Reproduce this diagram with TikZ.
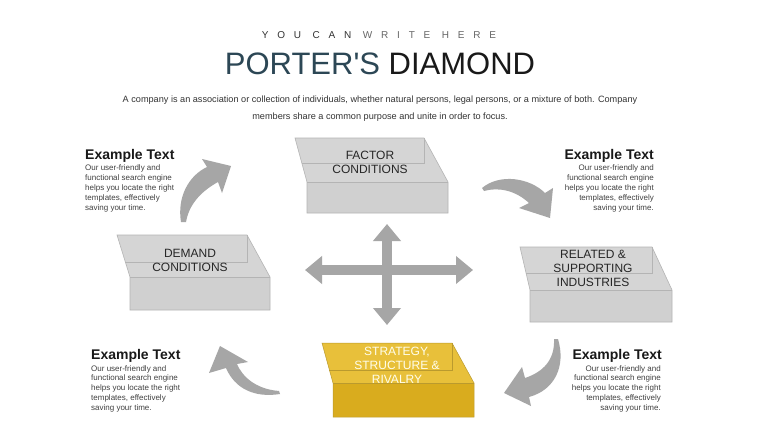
\documentclass[tikz,border=0pt]{standalone}
\usepackage{fontspec}
\setmainfont{Liberation Sans}
\newfontfamily\plainsans{Liberation Sans}
\usetikzlibrary{arrows.meta}
\definecolor{graytop}{HTML}{D5D5D5}
\definecolor{grayfront}{HTML}{D0D0D0}
\definecolor{goldtop}{HTML}{E8C03A}
\definecolor{goldfront}{HTML}{D9AC1E}
\definecolor{edgegray}{HTML}{B4B4B4}
\definecolor{arrowgray}{HTML}{A6A6A6}
\definecolor{titleteal}{HTML}{2C4755}
\definecolor{bodygray}{HTML}{404040}
\tikzset{
  boxedge/.style={draw=edgegray, line width=0.6pt},
  goldedge/.style={draw=goldtop!80!black, line width=0.5pt},
  boxlabel/.style={font=\fontsize{12}{14}\selectfont, align=center, text=black!85, inner sep=0pt},
  goldlabel/.style={boxlabel, text=white!92!yellow},
  extitle/.style={font=\fontsize{14}{16}\selectfont\bfseries, text=black!90, inner sep=0pt},
  exbody/.style={font=\fontsize{8}{9.9}\selectfont, text=bodygray, inner sep=0pt},
  subtext/.style={font=\fontsize{9.15}{12}\selectfont, text=black!80, inner sep=0pt},
  bigarrow/.style={draw=arrowgray, line width=10pt, {Triangle[width=27pt,length=17pt]}-{Triangle[width=27pt,length=17pt]}},
  curvedarrow/.style={fill=arrowgray, draw=none}
}
% #1 prefix (gray/gold), #2 yt, #3 xl, #4 xr, #5 yb, #6 yf, #7 fl, #8 fr, #9 ybot
\newcommand\prismbox[9]{%
  \fill[#1top] (#3,#2) -- (#4,#2) -- (#8,#6) -- (#8,#9) -- (#7,#9) -- (#7,#6) -- cycle;
  \fill[#1front] (#7,#6) rectangle (#8,#9);
  \draw[#1edgestyle] (#3,#2) -- (#4,#2) -- (#8,#6) -- (#8,#9) -- (#7,#9) -- (#7,#6) -- cycle;
  \draw[#1edgestyle] (#7,#6) -- (#8,#6);
  \draw[#1edgestyle] ({#3+(#7-#3)*(#5-#2)/(#6-#2)},#5) -- (#4,#5) -- (#4,#2);
}
\tikzset{grayedgestyle/.style={boxedge}, goldedgestyle/.style={goldedge}}
\begin{document}
\begin{tikzpicture}[x=1pt,y=-1pt]
\useasboundingbox (0,0) rectangle (760,428);
\fill[white] (0,0) rectangle (760,428);

% header
\node[font=\fontsize{10}{12}\selectfont\addfontfeatures{LetterSpace=88}, inner sep=0pt] (tag) at (379,35)
  {\textcolor{black!80}{YOU CAN} \textcolor{black!60}{WRITE HERE}};
\node[font=\plainsans\fontsize{31}{34}\selectfont, inner sep=0pt] (title) at (380,64)
  {\textcolor{titleteal}{PORTER'S} \textcolor{black!90}{DIAMOND}};
\node[subtext] (sub1) at (380,100) {A company is an association or collection of individuals, whether natural persons, legal persons, or a mixture of both. Company};
\node[subtext] (sub2) at (380,117) {members share a common purpose and unite in order to focus.};

% boxes
\prismbox{gray}{138}{295}{424}{163}{182}{307}{448}{213}
\prismbox{gray}{235}{117}{247}{262}{277}{130}{270}{310}
\prismbox{gray}{247}{520}{652}{273}{290}{530}{672}{322}
\prismbox{gold}{343}{322}{452}{370}{383}{333}{474}{417}

\node[boxlabel] (factor) at (370,162) {FACTOR\\CONDITIONS};
\node[boxlabel] (demand) at (190,260) {DEMAND\\CONDITIONS};
\node[boxlabel] (related) at (593,268) {RELATED \&\\SUPPORTING\\INDUSTRIES};
\node[goldlabel] (strategy) at (397,365) {STRATEGY,\\STRUCTURE \&\\RIVALRY};

% cross arrows
\coordinate (hl) at (305,270);
\coordinate (hr) at (473,270);
\coordinate (vt) at (387,224);
\coordinate (vb) at (387,325);
\draw[bigarrow] (hl) -- (hr);
\draw[bigarrow] (vt) -- (vb);

% curved arrows
\fill[curvedarrow] (181,222) .. controls (177,198) and (188,176) .. (207,167) -- (202,159) -- (231,166) -- (222,193) -- (218,182) .. controls (200,192) and (189,205) .. (186,222) -- cycle;
\fill[curvedarrow] (482,188) .. controls (500,173) and (530,178) .. (545,193) -- (553,188) -- (550,218) -- (519,208) -- (529,203) .. controls (515,190) and (498,187) .. (484,191) -- cycle;
\fill[curvedarrow] (558,339) .. controls (566,366) and (555,390) .. (529,397) -- (531,406) -- (504,393) -- (522,367) -- (525,378) .. controls (543,372) and (555,360) .. (554,339) -- cycle;
\fill[curvedarrow] (279,391) .. controls (255,389) and (242,376) .. (237,364) -- (248,362) -- (220,346) -- (209,373) -- (226,368) .. controls (235,389) and (255,398) .. (280,394) -- cycle;

% example texts
\node[extitle, anchor=west] (t1) at (85,156) {Example Text};
\node[exbody, anchor=north west, align=left] (b1) at (85,165) {Our user-friendly and\\functional search engine\\helps you locate the right\\templates, effectively\\saving your time.};
\node[extitle, anchor=east] (t2) at (654,156) {Example Text};
\node[exbody, anchor=north east, align=right] (b2) at (654,165) {Our user-friendly and\\functional search engine\\helps you locate the right\\templates, effectively\\saving your time.};
\node[extitle, anchor=west] (t3) at (91,356) {Example Text};
\node[exbody, anchor=north west, align=left] (b3) at (91,365) {Our user-friendly and\\functional search engine\\helps you locate the right\\templates, effectively\\saving your time.};
\node[extitle, anchor=east] (t4) at (662,356) {Example Text};
\node[exbody, anchor=north east, align=right] (b4) at (661,365) {Our user-friendly and\\functional search engine\\helps you locate the right\\templates, effectively\\saving your time.};
\end{tikzpicture}
\end{document}
